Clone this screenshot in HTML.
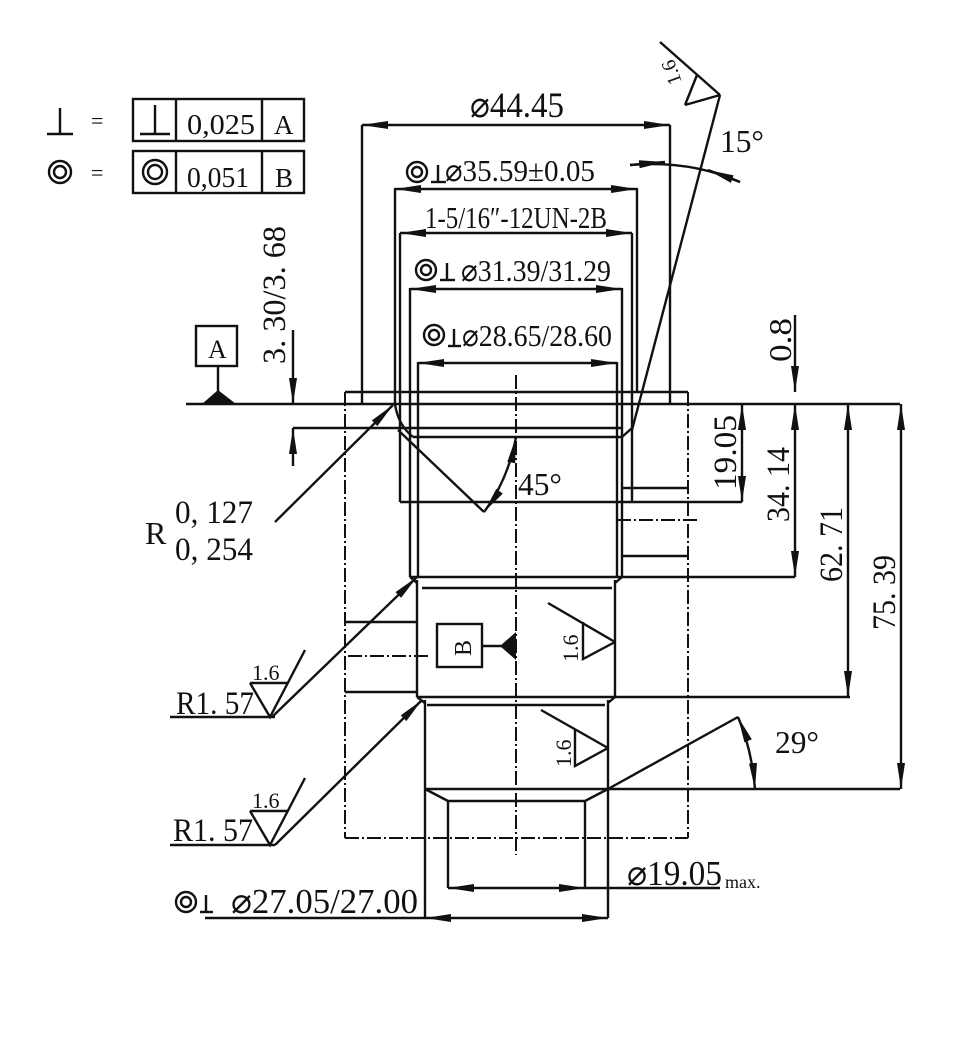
<!DOCTYPE html>
<html><head><meta charset="utf-8"><style>
html,body{margin:0;padding:0;background:#fff}
svg{display:block}
text{font-family:"Liberation Serif",serif;fill:#111}
</style></head><body>
<svg width="960" height="1038" viewBox="0 0 960 1038" xmlns="http://www.w3.org/2000/svg">
<defs>
<marker id="a" viewBox="0 0 26 10" refX="26" refY="5" markerWidth="26" markerHeight="10" markerUnits="userSpaceOnUse" orient="auto-start-reverse">
<path d="M0,1 L26,5 L0,9 Z" fill="#111"/>
</marker>
</defs>
<g stroke="#111" stroke-width="2.4" fill="none">
<line x1="47" y1="134" x2="73" y2="134"/><line x1="60" y1="108" x2="60" y2="134"/>
<circle cx="60" cy="172" r="11"/><circle cx="60" cy="172" r="6"/>
<rect x="133" y="99" width="171" height="42"/>
<line x1="176" y1="99" x2="176" y2="141"/><line x1="262" y1="99" x2="262" y2="141"/>
<line x1="140" y1="134" x2="170" y2="134"/><line x1="155" y1="105" x2="155" y2="134"/>
<rect x="133" y="151" width="171" height="42"/>
<line x1="176" y1="151" x2="176" y2="193"/><line x1="262" y1="151" x2="262" y2="193"/>
<circle cx="155" cy="172" r="12"/><circle cx="155" cy="172" r="7"/>

<rect x="196" y="326" width="41" height="40"/>
<line x1="218" y1="366" x2="218" y2="392"/>
<line x1="186" y1="404" x2="900" y2="404"/>

<line x1="345" y1="392" x2="688" y2="392"/>
<g stroke-dasharray="14,3,2,3" stroke-width="2">
<line x1="345" y1="392" x2="345" y2="838"/>
<line x1="688" y1="392" x2="688" y2="838"/>
<line x1="345" y1="838" x2="688" y2="838"/>
<line x1="516" y1="375" x2="516" y2="855"/>
<line x1="617" y1="520" x2="697" y2="520"/>
<line x1="348" y1="656" x2="428" y2="656"/>
</g>

<line x1="362" y1="125" x2="362" y2="404"/>
<line x1="670" y1="125" x2="670" y2="404"/>
<line x1="395" y1="188" x2="395" y2="404"/>
<line x1="637" y1="188" x2="637" y2="392"/>
<line x1="400" y1="233" x2="400" y2="502"/>
<line x1="632" y1="233" x2="632" y2="502"/>
<line x1="410" y1="288" x2="410" y2="577"/>
<line x1="622" y1="288" x2="622" y2="577"/>
<line x1="418" y1="362" x2="418" y2="577"/>
<line x1="617" y1="362" x2="617" y2="577"/>

<line x1="362" y1="125" x2="670" y2="125" marker-start="url(#a)" marker-end="url(#a)"/>
<line x1="395" y1="189" x2="637" y2="189" marker-start="url(#a)" marker-end="url(#a)"/>
<line x1="400" y1="233" x2="632" y2="233" marker-start="url(#a)" marker-end="url(#a)"/>
<line x1="410" y1="289" x2="622" y2="289" marker-start="url(#a)" marker-end="url(#a)"/>
<line x1="418" y1="363" x2="617" y2="363" marker-start="url(#a)" marker-end="url(#a)"/>

<line x1="293" y1="428" x2="622" y2="428"/>
<line x1="413" y1="437" x2="622" y2="437"/>
<path d="M395,404 Q398,425 413,437"/>
<path d="M622,437 L632,428"/>
<line x1="398" y1="430" x2="484" y2="512"/>
<path d="M484,512 Q508,480 516,437" marker-start="url(#a)" marker-end="url(#a)"/>
<line x1="400" y1="502" x2="742" y2="502"/>
<line x1="622" y1="488" x2="688" y2="488"/>
<line x1="622" y1="556" x2="688" y2="556"/>
<line x1="410" y1="577" x2="795" y2="577"/>

<line x1="720" y1="95" x2="632" y2="430"/>
<line x1="660" y1="42" x2="720" y2="95"/>
<line x1="685" y1="105" x2="720" y2="95"/>
<line x1="685" y1="105" x2="697" y2="75"/>
<path d="M630,165 Q690,160 740,182"/>
<line x1="630" y1="165" x2="665" y2="162" marker-end="url(#a)"/>
<line x1="740" y1="182" x2="708" y2="170" marker-end="url(#a)"/>

<line x1="293" y1="330" x2="293" y2="404" marker-end="url(#a)"/>
<line x1="293" y1="466" x2="293" y2="428" marker-end="url(#a)"/>

<line x1="417" y1="580" x2="417" y2="697"/>
<line x1="615" y1="580" x2="615" y2="697"/>
<path d="M410,577 L417,583"/><path d="M622,577 L615,583"/>
<line x1="422" y1="588" x2="612" y2="588"/>
<line x1="417" y1="697" x2="850" y2="697"/>
<line x1="345" y1="622" x2="417" y2="622"/>
<line x1="345" y1="692" x2="417" y2="692"/>
<rect x="437" y="624" width="45" height="43"/>
<line x1="482" y1="646" x2="502" y2="646"/>

<line x1="425" y1="700" x2="425" y2="918"/>
<line x1="608" y1="700" x2="608" y2="918"/>
<path d="M417,697 L425,703"/><path d="M615,697 L608,703"/>
<line x1="427" y1="705" x2="605" y2="705"/>
<line x1="425" y1="789" x2="900" y2="789"/>
<path d="M425,789 L448,801 L585,801 L608,789"/>
<line x1="448" y1="801" x2="448" y2="888"/>
<line x1="585" y1="801" x2="585" y2="888"/>
<line x1="448" y1="888" x2="585" y2="888" marker-start="url(#a)" marker-end="url(#a)"/>
<line x1="585" y1="888" x2="720" y2="888"/>
<line x1="205" y1="918" x2="425" y2="918"/>
<line x1="425" y1="918" x2="608" y2="918" marker-start="url(#a)" marker-end="url(#a)"/>

<line x1="548" y1="603" x2="615" y2="642"/>
<path d="M615,642 L583,659 L583,622"/>
<line x1="541" y1="710" x2="608" y2="748"/>
<path d="M608,748 L575,766 L575,730"/>

<line x1="608" y1="789" x2="738" y2="717"/>
<path d="M738,717 Q752,750 755,789" marker-start="url(#a)" marker-end="url(#a)"/>

<line x1="795" y1="315" x2="795" y2="392" marker-end="url(#a)"/>
<line x1="795" y1="404" x2="795" y2="577" marker-start="url(#a)" marker-end="url(#a)"/>
<line x1="742" y1="404" x2="742" y2="502" marker-start="url(#a)" marker-end="url(#a)"/>
<line x1="848" y1="404" x2="848" y2="697" marker-start="url(#a)" marker-end="url(#a)"/>
<line x1="901" y1="404" x2="901" y2="789" marker-start="url(#a)" marker-end="url(#a)"/>

<line x1="275" y1="522" x2="393" y2="405" marker-end="url(#a)"/>
<line x1="170" y1="717" x2="275" y2="717"/>
<line x1="272" y1="717" x2="417" y2="577" marker-end="url(#a)"/>
<line x1="250" y1="683" x2="287" y2="683"/>
<path d="M250,683 L270,717 L305,650"/>
<line x1="170" y1="845" x2="275" y2="845"/>
<line x1="275" y1="845" x2="422" y2="700" marker-end="url(#a)"/>
<line x1="250" y1="811" x2="287" y2="811"/>
<path d="M250,811 L270,845 L305,778"/>

<circle cx="417" cy="172" r="10"/><circle cx="417" cy="172" r="5"/>
<line x1="431" y1="182" x2="446" y2="182"/><line x1="438" y1="165" x2="438" y2="182"/>
<circle cx="426" cy="270" r="10"/><circle cx="426" cy="270" r="5"/>
<line x1="440" y1="280" x2="455" y2="280"/><line x1="447" y1="263" x2="447" y2="280"/>
<circle cx="434" cy="335" r="10"/><circle cx="434" cy="335" r="5"/>
<line x1="448" y1="346" x2="461" y2="346"/><line x1="454" y1="329" x2="454" y2="346"/>
<circle cx="186" cy="902" r="10"/><circle cx="186" cy="902" r="5"/>
<line x1="200" y1="912" x2="213" y2="912"/><line x1="206" y1="895" x2="206" y2="912"/>
</g>
<g fill="#111">
<path d="M202,404 L218,390 L236,404 Z"/>
<path d="M500,646 L516,632 L516,660 Z"/>
</g>

<g font-size="30">
<text x="91" y="128" font-size="22">=</text>
<text x="91" y="180" font-size="22">=</text>
<text x="187" y="134" font-size="28" textLength="68" lengthAdjust="spacingAndGlyphs">0,025</text>
<text x="274" y="134" font-size="27">A</text>
<text x="187" y="187" font-size="28" textLength="62" lengthAdjust="spacingAndGlyphs">0,051</text>
<text x="275" y="187" font-size="27">B</text>
<text x="208" y="358" font-size="26">A</text>
<text x="470" y="117" font-size="36" textLength="94" lengthAdjust="spacingAndGlyphs">⌀44.45</text>
<text x="445" y="181" font-size="31" textLength="150" lengthAdjust="spacingAndGlyphs">⌀35.59±0.05</text>
<text x="425" y="228" font-size="31" textLength="182" lengthAdjust="spacingAndGlyphs">1-5/16″-12UN-2B</text>
<text x="461" y="281" font-size="31" textLength="150" lengthAdjust="spacingAndGlyphs">⌀31.39/31.29</text>
<text x="462" y="346" font-size="31" textLength="150" lengthAdjust="spacingAndGlyphs">⌀28.65/28.60</text>
<text x="720" y="152" font-size="32" textLength="44" lengthAdjust="spacingAndGlyphs">15°</text>
<text x="518" y="495" font-size="32" textLength="44" lengthAdjust="spacingAndGlyphs">45°</text>
<text x="775" y="753" font-size="32" textLength="44" lengthAdjust="spacingAndGlyphs">29°</text>
<text x="145" y="544" font-size="32">R</text>
<text x="175" y="523" font-size="33" textLength="78" lengthAdjust="spacingAndGlyphs">0, 127</text>
<text x="175" y="560" font-size="33" textLength="78" lengthAdjust="spacingAndGlyphs">0, 254</text>
<text x="176" y="714" font-size="33" textLength="78" lengthAdjust="spacingAndGlyphs">R1. 57</text>
<text x="252" y="680" font-size="22">1.6</text>
<text x="173" y="841" font-size="33" textLength="80" lengthAdjust="spacingAndGlyphs">R1. 57</text>
<text x="252" y="808" font-size="22">1.6</text>
<text x="231" y="913" font-size="35" textLength="187" lengthAdjust="spacingAndGlyphs">⌀27.05/27.00</text>
<text x="627" y="885" font-size="35" textLength="95" lengthAdjust="spacingAndGlyphs">⌀19.05</text>
<text x="725" y="888" font-size="18">max.</text>
<text x="454" y="657" font-size="24" transform="rotate(-90 462 648)">B</text>
<text transform="translate(578,662) rotate(-90)" font-size="22">1.6</text>
<text transform="translate(571,767) rotate(-90)" font-size="22">1.6</text>
<text transform="translate(682,82) rotate(-110)" font-size="20">1.6</text>
<text transform="translate(285,364) rotate(-90)" font-size="33" textLength="138" lengthAdjust="spacingAndGlyphs">3. 30/3. 68</text>
<text transform="translate(791,362) rotate(-90)" font-size="32" textLength="44" lengthAdjust="spacingAndGlyphs">0.8</text>
<text transform="translate(736,490) rotate(-90)" font-size="33" textLength="75" lengthAdjust="spacingAndGlyphs">19.05</text>
<text transform="translate(789,522) rotate(-90)" font-size="33" textLength="75" lengthAdjust="spacingAndGlyphs">34. 14</text>
<text transform="translate(842,582) rotate(-90)" font-size="33" textLength="75" lengthAdjust="spacingAndGlyphs">62. 71</text>
<text transform="translate(895,630) rotate(-90)" font-size="33" textLength="75" lengthAdjust="spacingAndGlyphs">75. 39</text>
</g>
</svg>
</body></html>
